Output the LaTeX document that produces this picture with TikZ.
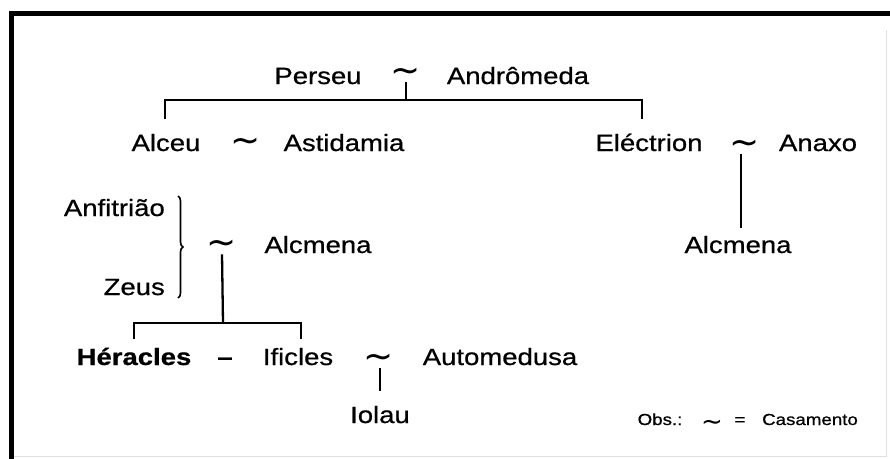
\documentclass[tikz,border=0pt]{standalone}
\usepackage{fontspec}
\setmainfont{Liberation Sans}[FakeStretch=1.17, FakeBold=0.7]
\newfontfamily\symfont{DejaVu Sans}
\usetikzlibrary{decorations.pathreplacing}
\begin{document}
\begin{tikzpicture}[x=1pt,y=-1pt,
  person/.style={font=\fontsize{23.5}{24}\selectfont, inner sep=0pt, anchor=base},
  hero/.style={person, font=\fontsize{23.5}{24}\selectfont\bfseries},
  marr/.style={font=\fontsize{36}{36}\symfont, inner sep=0pt},
  small/.style={font=\fontsize{16}{16}\selectfont, inner sep=0pt, anchor=base},
  smarr/.style={font=\fontsize{26}{26}\symfont, inner sep=0pt},
  conn/.style={line width=2.3pt},
  frame/.style={line width=5pt, line cap=rect}]
\useasboundingbox (0,0) rectangle (890,458);
% frame
\draw[frame] (11.5,458) -- (11.5,13.5) -- (890,13.5);
\draw[gray!25, line width=1pt] (886,30) -- (886,456) -- (14,456);

% generation 1
\node[person] (perseu) at (318,84) {Perseu};
\node[marr] (t1) at (406,75) {∼};
\node[person] (andromeda) at (518,84) {Andrômeda};
\coordinate (b1L) at (165,100);
\coordinate (b1R) at (642,100);
\coordinate (l1L) at (165,119);
\coordinate (l1R) at (642,119);
\draw[conn] (t1.south) -- (t1.south |- b1L);
\draw[conn] (l1L) -- (b1L) -- (b1R) -- (l1R);

% generation 2
\node[person] (alceu) at (166,151) {Alceu};
\node[marr] (t2) at (246,145) {∼};
\node[person] (astidamia) at (344,151) {Astidamia};
\node[person] (electrion) at (649,151) {Eléctrion};
\node[marr] (t3) at (745,147) {∼};
\node[person] (anaxo) at (818,151) {Anaxo};
\node[person] (alcmenaR) at (738,253) {Alcmena};
\draw[conn] (t3.south -| 741,0) -- (741,228);

% generation 3
\node[person, anchor=base east] (anfitriao) at (165,216) {Anfitrião};
\node[person, anchor=base east] (zeus) at (165,295) {Zeus};
\coordinate (brT) at (178,196);
\coordinate (brB) at (178,298);
\draw[line width=1.6pt, decorate, decoration={brace, amplitude=5pt}] (brT) -- (brB);
\node[marr] (t4) at (222,247) {∼};
\node[person] (alcmenaL) at (318,253) {Alcmena};
\coordinate (b2) at (223,323);
\coordinate (b2L) at (134,323);
\coordinate (b2R) at (301,323);
\coordinate (l2L) at (134,339);
\coordinate (l2R) at (301,339);
\draw[conn] (t4.south) -- (b2);
\draw[conn] (l2L) -- (b2L) -- (b2R) -- (l2R);

% generation 4
\node[hero] (heracles) at (134,365) {Héracles};
\node[person, font=\fontsize{23.5}{24}\selectfont\bfseries] (dash) at (225,365) {–};
\node[person] (ificles) at (298,365) {Ificles};
\node[marr] (t5) at (379,361) {∼};
\node[person] (automedusa) at (500,365) {Automedusa};
\node[person] (iolau) at (380,423) {Iolau};
\draw[conn] (t5.south -| iolau.north) -- (380,391);

% legend
\node[small] (obs) at (660,425) {Obs.:};
\node[smarr] (t6) at (712,425) {∼};
\node[small] (eq) at (740,425) {=};
\node[small] (casamento) at (810,425) {Casamento};
\end{tikzpicture}
\end{document}
